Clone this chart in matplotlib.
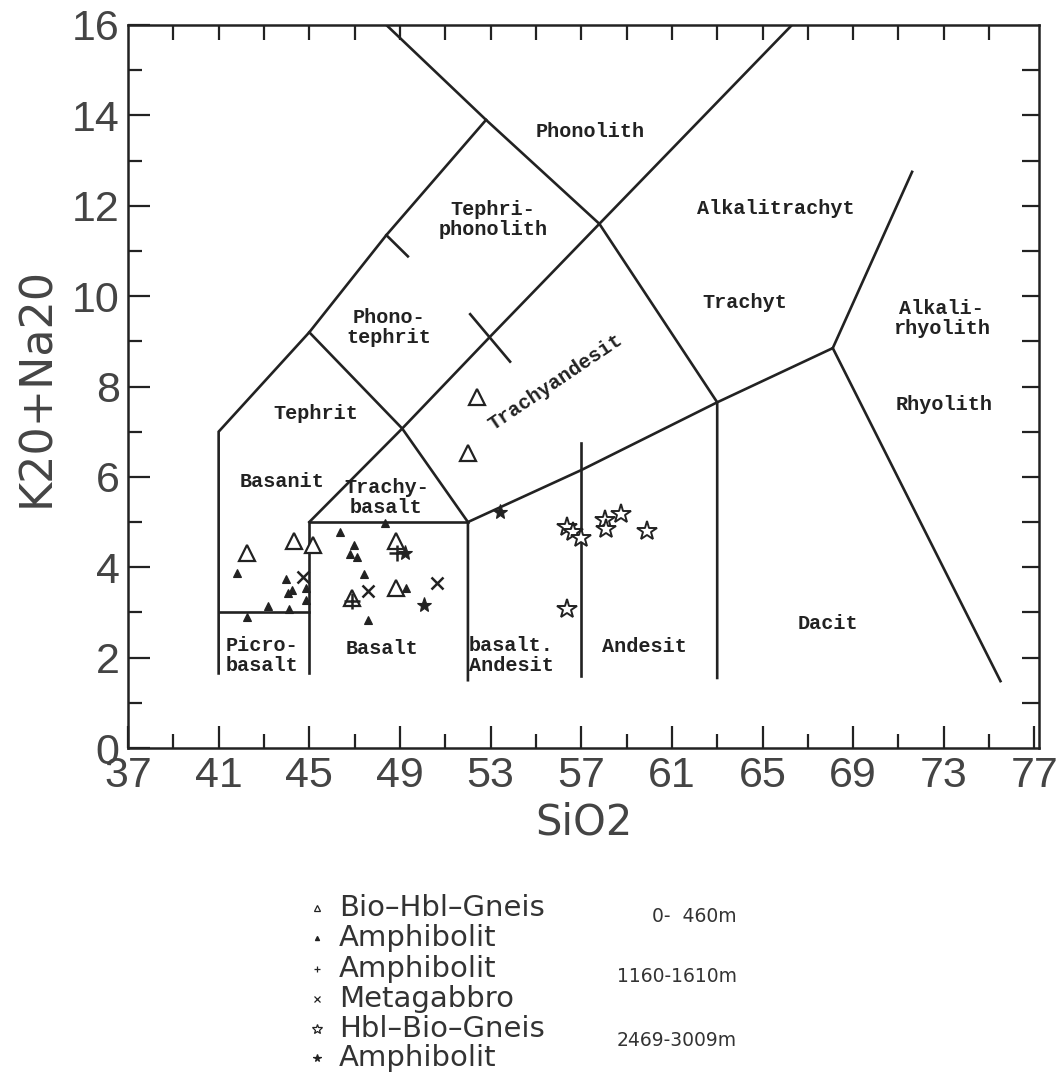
import matplotlib
matplotlib.use("Agg")
import matplotlib.pyplot as plt
from matplotlib.lines import Line2D
import numpy as np

# TAS field boundaries (SiO2, K2O+Na2O)
field_lines = [
    [(41, 1.65), (41, 7), (45, 9.2), (48.4, 11.35), (52.8, 13.9), (48.4, 16)],
    [(41, 3), (45, 3)],
    [(45, 1.65), (45, 5), (52, 5)],
    [(45, 5), (49.1, 7.07), (53.05, 9.14), (57.8, 11.6), (66.3, 16)],
    [(45, 9.2), (49.1, 7.07), (52, 5), (52, 1.5)],
    [(52, 5), (57, 6.15), (63, 7.65), (68.1, 8.85), (71.6, 12.75)],
    [(57, 1.6), (57, 6.75)],
    [(63, 1.55), (63, 7.65), (57.8, 11.6), (52.8, 13.9)],
    [(68.1, 8.85), (75.5, 1.48)],
    [(48.4, 11.35), (49.35, 10.88)],
    [(52.1, 9.6), (53.86, 8.55)],
]

field_names = ["Phonolith", "Tephri-\nphonolith", "Alkalitrachyt", "Phono-\ntephrit",
               "Trachyt", "Alkali-\nrhyolith", "Rhyolith", "Tephrit", "Basanit",
               "Trachy-\nbasalt", "Picro-\nbasalt", "Basalt", "basalt.\nAndesit",
               "Andesit", "Dacit"]
field_x = [57.4, 53.1, 65.6, 48.5, 64.2, 72.9, 73.0, 45.3, 43.8,
           48.4, 42.9, 48.2, 53.9, 59.8, 67.9]
field_y = [13.65, 11.7, 11.95, 9.3, 9.85, 9.5, 7.6, 7.4, 5.9,
           5.55, 2.05, 2.2, 2.05, 2.25, 2.75]

# samples
bhg_x = [42.24, 44.34, 45.18, 48.83, 48.83, 46.87, 52.39, 52.02]
bhg_y = [4.31, 4.58, 4.49, 4.58, 3.55, 3.31, 7.77, 6.52]

amph1_x = [41.8, 43.97, 44.07, 44.25, 43.19, 44.12, 44.86, 44.86, 42.24,
           46.36, 46.97, 46.8, 47.09, 47.41, 47.6, 49.27, 48.34]
amph1_y = [3.88, 3.73, 3.42, 3.5, 3.14, 3.07, 3.55, 3.27, 2.9,
           4.79, 4.49, 4.29, 4.22, 3.85, 2.83, 3.55, 4.97]

amph2_x = [48.85, 46.87]
amph2_y = [4.32, 3.25]

mgab_x = [44.74, 47.6, 50.65]
mgab_y = [3.79, 3.47, 3.66]

hbg_x = [56.39, 56.62, 56.97, 58.05, 58.1, 58.74, 59.92, 56.39]
hbg_y = [4.9, 4.79, 4.64, 5.04, 4.84, 5.18, 4.81, 3.07]

amph3_x = [49.22, 50.06, 53.42]
amph3_y = [4.31, 3.16, 5.23]

legend_names = ["Bio-Hbl-Gneis", "Amphibolit", "Amphibolit", "Metagabbro",
                "Hbl-Bio-Gneis", "Amphibolit"]
depths = ["0-  460m", "1160-1610m", "2469-3009m"]

W, H = 1062, 1075
ink = "#222222"
fig = plt.figure(figsize=(W / 100, H / 100), dpi=100)
ax = fig.add_axes([128 / W, 1 - 748 / H, 911 / W, 723 / H])
ax.set_xlim(37, 77.2)
ax.set_ylim(0, 16)

for seg in field_lines:
    xs, ys = zip(*seg)
    ax.plot(xs, ys, color=ink, lw=1.9, solid_joinstyle="miter")

for name, x, y in zip(field_names, field_x, field_y):
    ax.text(x, y, name, ha="center", va="center", family="Liberation Mono",
            fontweight="bold", fontsize=14.5, color=ink, linespacing=1.05)
ax.text(55.85, 8.1, "Trachyandesit", ha="center", va="center", rotation=34,
        family="Liberation Mono", fontweight="bold", fontsize=14.5, color=ink)

k = dict(color=ink, linestyle="none")
ax.plot(bhg_x, bhg_y, marker="^", ms=11, mfc="white", mew=1.6, **k)
ax.plot(amph1_x, amph1_y, marker="^", ms=6, mfc=ink, mew=0.8, **k)
ax.plot(amph2_x, amph2_y, marker="+", ms=11, mew=1.8, **k)
ax.plot(mgab_x, mgab_y, marker="x", ms=9, mew=1.8, **k)
ax.plot(hbg_x, hbg_y, marker="*", ms=15, mfc="white", mew=1.4, **k)
ax.plot(amph3_x, amph3_y, marker="*", ms=11, mfc=ink, mew=0.8, **k)

# axes frame and ticks
for s in ax.spines.values():
    s.set_linewidth(1.8)
    s.set_color(ink)
ax.set_xticks(np.arange(37, 78, 4))
ax.set_xticks(np.arange(39, 77, 4), minor=True)
ax.set_yticks(np.arange(0, 17, 2))
ax.set_yticks(np.arange(1, 16, 2), minor=True)
ax.tick_params(which="both", direction="in", color=ink, width=1.6,
               top=False, right=False)
ax.tick_params(which="major", length=16, labelsize=31, pad=6, labelcolor="#444444")
ax.tick_params(which="minor", length=10)
for lab in ax.get_xticklabels() + ax.get_yticklabels():
    lab.set_family("Liberation Sans")

top = ax.secondary_xaxis("top")
top.set_xticks(np.arange(39, 77, 2))
top.tick_params(direction="in", length=11, width=1.6, labeltop=False, color=ink)
top.spines["top"].set_visible(False)
right = ax.secondary_yaxis("right")
right.set_yticks(np.arange(1, 16, 1))
right.tick_params(direction="in", length=12, width=1.6, labelright=False, color=ink)
right.spines["right"].set_visible(False)

ax.set_xlabel("SiO2", family="DejaVu Sans", fontsize=30, color="#444444", labelpad=4)
ax.set_ylabel("K20+Na20", family="DejaVu Sans", fontsize=32, color="#444444", labelpad=10)

# legend below the diagram
leg_marks = [("^", 5, "white"), ("^", 3, ink), ("+", 5, None),
             ("x", 4, None), ("*", 7, "white"), ("*", 5.5, ink)]
rows = [908, 938, 969, 999, 1029, 1058]
for (m, s, fc), name, yy in zip(leg_marks, legend_names, rows):
    yf = 1 - yy / H
    kw = dict(marker=m, ms=s, color=ink, mew=0.9, linestyle="none")
    if fc is not None:
        kw["mfc"] = fc
    fig.add_artist(Line2D([317 / W], [yf], transform=fig.transFigure, **kw))
    fig.text(339 / W, yf, name.replace("-", "\u2013"), family="DejaVu Sans",
             fontsize=21, va="center", ha="left", color="#333333")
for d, yy in zip(depths, [917, 977, 1040]):
    fig.text(737 / W, 1 - yy / H, d, family="DejaVu Sans", fontsize=13.5,
             va="center", ha="right", color="#333333")

fig.savefig("out.png", dpi=100, facecolor="white")
